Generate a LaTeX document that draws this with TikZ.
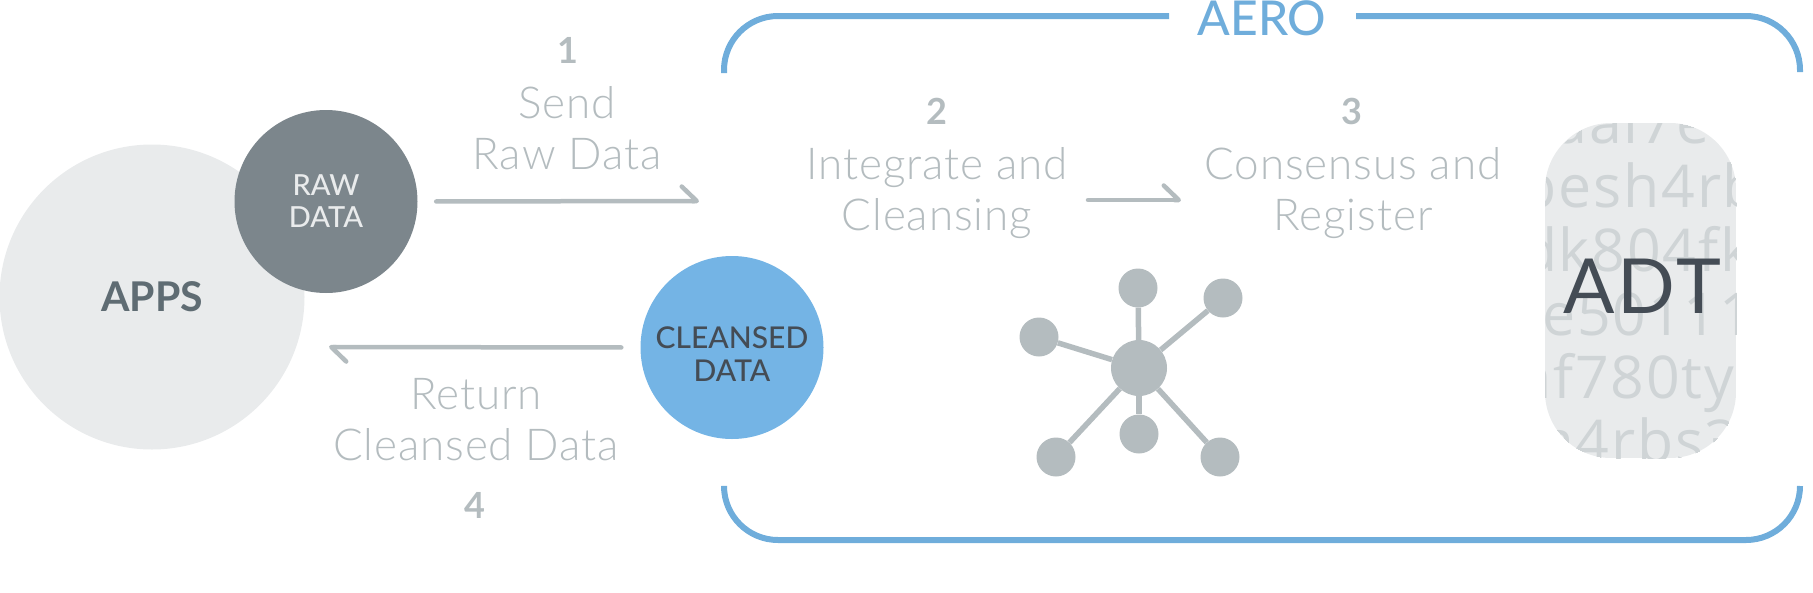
\documentclass[tikz,border=0pt]{standalone}
\usepackage{fontspec}
\setmainfont{Lato}
\newfontfamily\lightfont[LetterSpace=2]{Lato Light}
\newfontfamily\medfont{Lato Medium}
\newfontfamily\adtfont[LetterSpace=3]{Open Sans}
\usetikzlibrary{arrows.meta}
\definecolor{aeroblue}{HTML}{6FADDB}
\definecolor{cleanblue}{HTML}{74B4E5}
\definecolor{rawgray}{HTML}{7C868C}
\definecolor{appgray}{HTML}{E9EBEC}
\definecolor{stepgray}{HTML}{B4BCBF}
\definecolor{ghostgray}{HTML}{CFD4D6}
\definecolor{darktext}{HTML}{444C55}
\definecolor{appstext}{HTML}{5F6C73}
\tikzset{
    blob/.style={circle,inner sep=0pt,minimum size=183pt},
    steptext/.style={text=stepgray,align=center,inner sep=0pt,anchor=base,font=\lightfont\fontsize{44}{51}\selectfont},
    stepnum/.style={text=stepgray,inner sep=0pt,anchor=base,font=\bfseries\fontsize{36}{36}\selectfont},
    flow/.style={stepgray,line width=4.5pt,line cap=round,-{Straight Barb[left,length=15pt,width=29pt,round]}},
    frameline/.style={aeroblue,line width=6pt,rounded corners=54pt},
    leaf/.style={circle,fill=stepgray,inner sep=0pt,minimum size=39pt},
    ghost/.style={text=ghostgray,inner sep=0pt,anchor=base,font=\adtfont\fontsize{59}{59}\selectfont}
}
\begin{document}
\begin{tikzpicture}[x=1pt,y=-1pt]
    \useasboundingbox (0,0) rectangle (1813,592);
    % left side
    \node[blob,minimum size=305pt,fill=appgray,text=appstext,font=\bfseries\fontsize{41}{41}\selectfont] (apps) at (152,297) {APPS};
    \node[blob,fill=rawgray,text=appgray,align=center,font=\medfont\fontsize{29}{32}\selectfont] (raw) at (326,201.5) {RAW\\DATA};
    \node[blob,fill=cleanblue] (cleansed) at (732,347.5) {};
    \node[text=darktext,align=center,inner sep=0pt,font=\medfont\fontsize{30}{33}\selectfont] (cleansedtxt) at (732,354.5) {CLEANSED\\DATA};
    % frame
    \draw[frameline] (724,73) |- (1169,16);
    \draw[frameline] (1356,16) -| (1800,72);
    \draw[frameline] (724,487) |- (1800,540) -- (1800,486);
    \node[text=aeroblue,inner sep=0pt,anchor=base,font=\medfont\fontsize{48}{48}\selectfont] (aero) at (1262,35) {AERO};
    % steps
    \node[stepnum] (numa) at (568,63) {1};
    \node[stepnum] (numb) at (937,124) {2};
    \node[stepnum] (numc) at (1352,124) {3};
    \node[stepnum] (numd) at (475,518) {4};
    \node[steptext] (send) at (567,169) {Send\\Raw Data};
    \node[steptext] (integrate) at (937,230) {Integrate and\\Cleansing};
    \node[steptext] (consensus) at (1353,230) {Consensus and\\Register};
    \node[steptext] (return) at (476,460) {Return\\Cleansed Data};
    % arrows
    \coordinate (sendend) at (699,201);
    \coordinate (flowstart) at (1088,200);
    \coordinate (flowend) at (1181,200);
    \coordinate (returnend) at (329,347);
    \draw[flow,shorten <=18.5pt] (raw.east) -- (sendend);
    \draw[flow] (flowstart) -- (flowend);
    \draw[flow,shorten <=19pt] (cleansed.west) -- (returnend);
    % network
    \node[leaf,minimum size=56pt] (hub) at (1139,368) {};
    \foreach \name/\x/\y in {top/1138/288,upright/1223/298,left/1039/337,bottom/1139/434,lowleft/1056/457,lowright/1220/457}{
        \node[leaf] (\name) at (\x,\y) {};
        \draw[stepgray,line width=5.5pt] (hub) -- (\name);
    }
    % ADT box
    \begin{scope}
    \clip[rounded corners=66pt] (1545,123) rectangle (1736,458);
    \fill[appgray] (1545,123) rectangle (1736,458);
    \foreach \n/\word/\x/\y in {a/aal7e/1632/143,b/besh4rb/1640/207,c/dk804fk/1636/271,d/0e50111/1630/335,e/nf780ty/1625/398,f/a4rbs3/1640/462}{
        \node[ghost] (line\n) at (\x,\y) {\word};
    }
    \end{scope}
    \node[text=darktext,inner sep=0pt,anchor=base,font=\addfontfeature{LetterSpace=4}\fontsize{76}{76}\selectfont] (adt) at (1642,313) {ADT};
\end{tikzpicture}
\end{document}
